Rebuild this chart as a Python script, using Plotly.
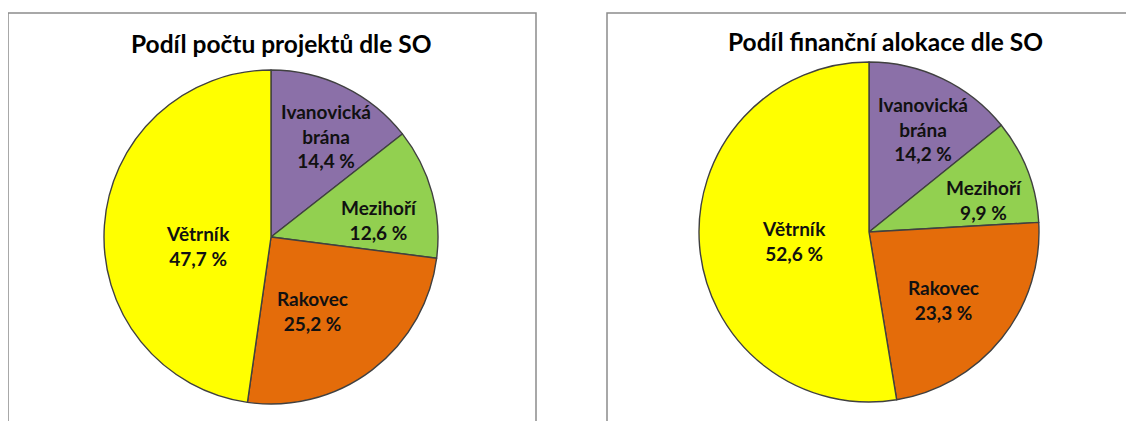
import plotly.graph_objects as go

LABELS = ["Ivanovická<br>brána", "Mezihoří", "Rakovec", "Větrník"]
PROJECT_SHARE = [14.4, 12.6, 25.2, 47.7]
FINANCE_SHARE = [14.2, 9.9, 23.3, 52.6]
COLORS = ["#8B70A8", "#92D050", "#E46C0A", "#FFFF00"]
TITLES = ["Podíl počtu projektů dle SO", "Podíl finanční alokace dle SO"]

W, H = 1134, 421
OFF = 8  # default body margin of the html page
FONT = "Lato, 'Open Sans', Arial, sans-serif"

# pixel layout of each panel: pie centre, radius, title centre, label centres
PANELS = [
    dict(cx=271, cy=237, r=167, tx=281, ty=43, box=(8, 536),
         lab=[(326, 136), (379, 220), (312, 311), (198, 246)]),
    dict(cx=869, cy=232, r=170, tx=885, ty=41, box=(607, 1150),
         lab=[(923, 129), (984, 200), (943, 300), (794, 241)]),
]


def px(x):
    return (x - OFF) / W


def py(y):
    return (H - (y - OFF)) / H


def pct(values):
    return [f"{v:.1f}".replace(".", ",") + " %" for v in values]


fig = go.Figure()
for vals, p, title in zip([PROJECT_SHARE, FINANCE_SHARE], PANELS, TITLES):
    cx, cy, r = p["cx"], p["cy"], p["r"]
    fig.add_trace(go.Pie(
        labels=LABELS,
        values=vals,
        textinfo="none",
        sort=False,
        direction="clockwise",
        marker=dict(colors=COLORS, line=dict(color="#404040", width=1.4)),
        domain=dict(x=[px(cx - r), px(cx + r)], y=[py(cy + r), py(cy - r)]),
        hoverinfo="label+percent",
        showlegend=False,
    ))

    for lab, txt, (lx, ly) in zip(LABELS, pct(vals), p["lab"]):
        fig.add_annotation(text=f"<b>{lab}<br>{txt}</b>", x=px(lx), y=py(ly),
                           xref="paper", yref="paper", showarrow=False,
                           xanchor="center", yanchor="middle",
                           font=dict(size=19, color="#111111", family=FONT))

    x0, x1 = p["box"]
    fig.add_shape(type="rect", xref="paper", yref="paper",
                  x0=px(x0), x1=px(x1), y0=-0.05, y1=py(13),
                  line=dict(color="#8C8C8C", width=1.5))

    fig.add_annotation(text=f"<b>{title}</b>", x=px(p["tx"]), y=py(p["ty"]),
                       xref="paper", yref="paper", showarrow=False,
                       xanchor="center", yanchor="middle",
                       font=dict(size=24.5, color="#000000", family=FONT))

fig.update_layout(
    width=W, height=H,
    margin=dict(l=0, r=0, t=0, b=0),
    paper_bgcolor="white",
    plot_bgcolor="white",
    font=dict(family=FONT),
)

fig.write_html("out.html")
